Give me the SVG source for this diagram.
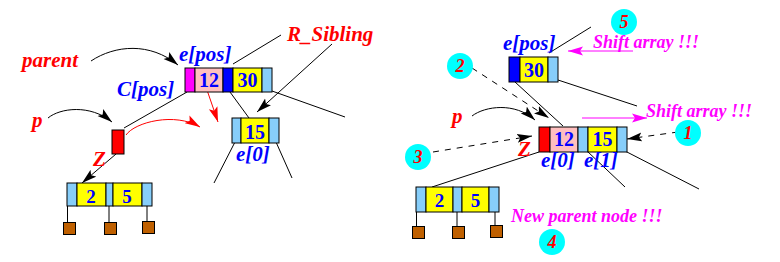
<svg xmlns="http://www.w3.org/2000/svg" width="780" height="262" viewBox="0 0 780 262">
<style>
.c{stroke:#000;stroke-width:1}
.lb{fill:#87cefa}
.y{fill:#ffff00}
.pk{fill:#ffbfbf}
.bl{fill:#0000ff}
.mg{fill:#ff00ff}
.rd{fill:#ff0000}
.br{fill:#bf6000;stroke:#000;stroke-width:1}
.num{font-family:"Liberation Serif","DejaVu Serif",serif;font-weight:bold;fill:#0000ff;text-anchor:middle}
.lbl{font-family:"Liberation Serif","DejaVu Serif",serif;font-weight:bold;font-style:italic;font-size:21px}
.r{fill:#ff0000}
.b{fill:#0000ff}
.m{fill:#ff00ff;font-size:18px}
.circ{fill:#00ffff}
.cn{font-family:"Liberation Serif","DejaVu Serif",serif;font-weight:bold;font-style:italic;font-size:18px;fill:#ff0000;text-anchor:middle}
.ln{fill:none;stroke:#000;stroke-width:1}
.dl{fill:none;stroke:#000;stroke-width:1;stroke-dasharray:6,6}
</style>
<defs>
<marker id="ab" markerWidth="16" markerHeight="10" refX="15" refY="5" orient="auto" markerUnits="userSpaceOnUse"><path d="M0,0.5 L15,5 L0,9.5 L3,5 z" fill="#000"/></marker>
<marker id="ar" markerWidth="16" markerHeight="10" refX="15" refY="5" orient="auto" markerUnits="userSpaceOnUse"><path d="M0,0.5 L15,5 L0,9.5 L3,5 z" fill="#ff0000"/></marker>
<marker id="am" markerWidth="16" markerHeight="10" refX="15" refY="5" orient="auto" markerUnits="userSpaceOnUse"><path d="M0,0.5 L15,5 L0,9.5 L3,5 z" fill="#ff00ff"/></marker>
</defs>

<g id="connectors">
<path class="ln" d="M91,61 C115,45 150,42 178,65" marker-end="url(#ab)"/>
<path class="ln" d="M48,118 C60,108 90,104 112,122" marker-end="url(#ab)"/>
<path d="M126,135 C135,122 175,112 200,127" fill="none" stroke="#ff0000" stroke-width="1" marker-end="url(#ar)"/>
<line x1="207" y1="90" x2="218" y2="122" stroke="#ff0000" stroke-width="1" marker-end="url(#ar)"/>
<line class="ln" x1="116" y1="154" x2="82" y2="183" marker-end="url(#ab)"/>
<line class="ln" x1="332" y1="44" x2="257" y2="112" marker-end="url(#ab)"/>
<line class="ln" x1="233" y1="64" x2="281" y2="35"/>
<line class="ln" x1="187" y1="92" x2="124" y2="128"/>
<line class="ln" x1="230" y1="92" x2="249" y2="118"/>
<line class="ln" x1="272" y1="91" x2="345" y2="117"/>
<line class="ln" x1="235" y1="142" x2="214" y2="183"/>
<line class="ln" x1="276" y1="142" x2="292" y2="178"/>
<path class="ln" d="M472,116 C485,106 515,102 535,120" marker-end="url(#ab)"/>
<line class="dl" x1="472" y1="68" x2="549" y2="118" marker-end="url(#ab)"/>
<line class="dl" x1="433" y1="152" x2="532" y2="136" marker-end="url(#ab)"/>
<line class="dl" x1="678" y1="132" x2="627" y2="139" marker-end="url(#ab)"/>
<line x1="633" y1="51" x2="568" y2="51" stroke="#ff00ff" stroke-width="1" marker-end="url(#am)"/>
<line x1="582" y1="118" x2="647" y2="118" stroke="#ff00ff" stroke-width="1" marker-end="url(#am)"/>
<line class="ln" x1="549" y1="53" x2="591" y2="27"/>
<line class="ln" x1="558" y1="80" x2="637" y2="106"/>
<line class="ln" x1="515" y1="82" x2="563" y2="126"/>
<line class="ln" x1="539" y1="152" x2="432" y2="187"/>
<line class="ln" x1="587" y1="151" x2="625" y2="187"/>
<line class="ln" x1="625" y1="151" x2="699" y2="189"/>
</g>

<g id="left-parent-node">
<rect class="c mg" x="185" y="68" width="10" height="24"/>
<rect class="c pk" x="195" y="68" width="28" height="24"/>
<rect class="c bl" x="223" y="68" width="10" height="24"/>
<rect class="c y" x="233" y="68" width="29" height="24"/>
<rect class="c lb" x="262" y="68" width="10" height="24"/>
<text class="num" x="209" y="87" font-size="20">12</text>
<text class="num" x="247.5" y="87" font-size="20">30</text>
</g>

<g id="left-rsibling-node">
<rect class="c lb" x="232" y="118" width="9" height="25"/>
<rect class="c y" x="241" y="118" width="28" height="25"/>
<rect class="c lb" x="269" y="118" width="10" height="25"/>
<text class="num" x="255" y="139" font-size="20">15</text>
</g>

<g id="left-p-node">
<rect x="112" y="130" width="12" height="24" fill="#ff0000" stroke="#000" stroke-width="1"/>
</g>

<g id="left-child-node">
<rect class="c lb" x="67" y="183" width="10" height="23"/>
<rect class="c y" x="77" y="183" width="29" height="23"/>
<rect class="c lb" x="106" y="183" width="7" height="23"/>
<rect class="c y" x="113" y="183" width="29" height="23"/>
<rect class="c lb" x="142" y="183" width="10" height="23"/>
<text class="num" x="91" y="203" font-size="19">2</text>
<text class="num" x="127" y="203" font-size="19">5</text>
<line class="ln" x1="67.5" y1="206" x2="67.5" y2="222"/>
<line class="ln" x1="109" y1="206" x2="109" y2="222"/>
<line class="ln" x1="147" y1="206" x2="147" y2="221"/>
<rect class="br" x="63.5" y="222.5" width="12" height="12"/>
<rect class="br" x="104.5" y="222.5" width="12" height="12"/>
<rect class="br" x="142.5" y="221.5" width="12" height="12"/>
</g>

<g id="right-epos-node">
<rect class="c bl" x="509" y="57" width="11" height="25"/>
<rect class="c y" x="520" y="57" width="28" height="25"/>
<rect class="c lb" x="548" y="57" width="10" height="25"/>
<text class="num" x="534" y="77" font-size="20">30</text>
</g>

<g id="right-new-node">
<rect class="c rd" x="539" y="127" width="11" height="25"/>
<rect class="c pk" x="550" y="127" width="28" height="25"/>
<rect class="c lb" x="578" y="127" width="10" height="25"/>
<rect class="c y" x="588" y="127" width="29" height="25"/>
<rect class="c lb" x="617" y="127" width="10" height="25"/>
<text class="num" x="564" y="146" font-size="20">12</text>
<text class="num" x="602.5" y="146" font-size="20">15</text>
</g>

<g id="right-child-node">
<rect class="c lb" x="416" y="187" width="10" height="25"/>
<rect class="c y" x="426" y="187" width="27" height="25"/>
<rect class="c lb" x="453" y="187" width="9" height="25"/>
<rect class="c y" x="462" y="187" width="27" height="25"/>
<rect class="c lb" x="489" y="187" width="10" height="25"/>
<text class="num" x="439.5" y="207" font-size="19">2</text>
<text class="num" x="475.5" y="207" font-size="19">5</text>
<line class="ln" x1="416.5" y1="212" x2="416.5" y2="226"/>
<line class="ln" x1="457" y1="212" x2="457" y2="226"/>
<line class="ln" x1="495" y1="212" x2="495" y2="225"/>
<rect class="br" x="412.5" y="226.5" width="12" height="12"/>
<rect class="br" x="452.5" y="226.5" width="12" height="12"/>
<rect class="br" x="490.5" y="225.5" width="12" height="12"/>
</g>

<g id="labels">
<text class="lbl r" x="22" y="67">parent</text>
<text class="lbl r" x="287" y="41">R_Sibling</text>
<text class="lbl b" x="179" y="61">e[pos]</text>
<text class="lbl b" x="117" y="96">C[pos]</text>
<text class="lbl r" x="32" y="127">p</text>
<text class="lbl r" x="93" y="166">Z</text>
<text class="lbl b" x="236" y="161">e[0]</text>
<text class="lbl b" x="503" y="50">e[pos]</text>
<text class="lbl m" x="593" y="48">Shift array !!!</text>
<text class="lbl m" x="646" y="117">Shift array !!!</text>
<text class="lbl r" x="452" y="123">p</text>
<text class="lbl r" x="518" y="156">Z</text>
<text class="lbl b" x="541" y="167">e[0]</text>
<text class="lbl b" x="584" y="167">e[1]</text>
<text class="lbl m" x="511" y="222">New parent node !!!</text>
</g>

<g id="step-5"><circle class="circ" cx="624" cy="22" r="13"/><text class="cn" x="624" y="27.5">5</text></g>
<g id="step-2"><circle class="circ" cx="460" cy="66" r="13"/><text class="cn" x="460" y="72">2</text></g>
<g id="step-3"><circle class="circ" cx="418" cy="157" r="13"/><text class="cn" x="418" y="163">3</text></g>
<g id="step-1"><circle class="circ" cx="688" cy="133" r="13"/><text class="cn" x="688" y="139">1</text></g>
<g id="step-4"><circle class="circ" cx="552" cy="242" r="13"/><text class="cn" x="552" y="248">4</text></g>
</svg>
